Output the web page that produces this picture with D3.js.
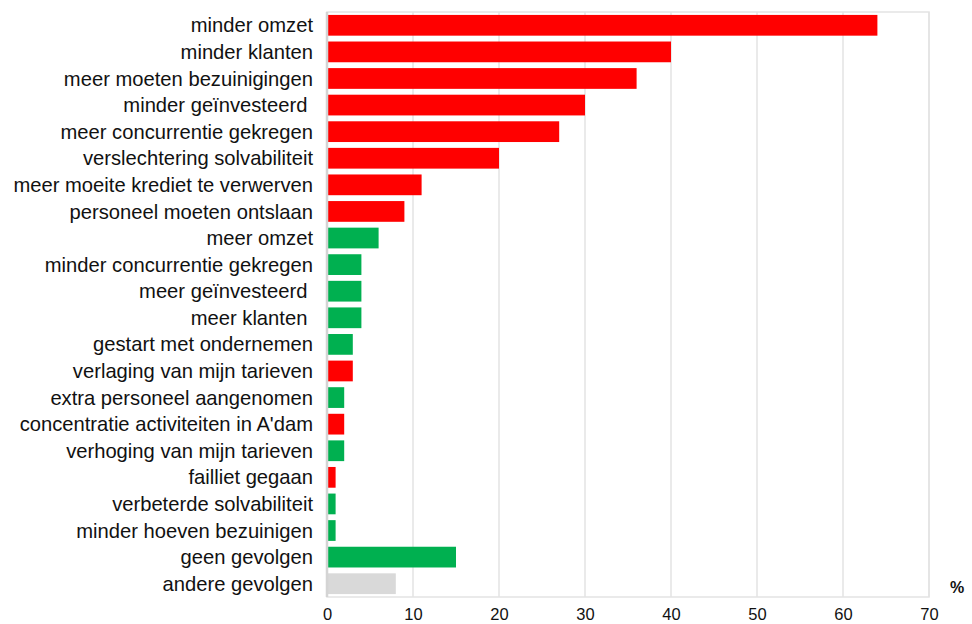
<!DOCTYPE html>
<html>
<head>
<meta charset="utf-8">
<script src="https://cdn.jsdelivr.net/npm/d3@7"></script>
<style>
  body { margin: 0; background: #fff; }
  text { font-family: "Liberation Sans", Arial, sans-serif; fill: #111; }
</style>
</head>
<body>
<div id="chart"></div>
<script>
// categories, values (%) and sign (neg = red, pos = green, other = grey)
const categories = [
    "minder omzet", "minder klanten", "meer moeten bezuinigingen", "minder geïnvesteerd ",
    "meer concurrentie gekregen", "verslechtering solvabiliteit", "meer moeite krediet te verwerven",
    "personeel moeten ontslaan", "meer omzet", "minder concurrentie gekregen", "meer geïnvesteerd ",
    "meer klanten ", "gestart met ondernemen", "verlaging van mijn tarieven",
    "extra personeel aangenomen", "concentratie activiteiten in A'dam", "verhoging van mijn tarieven",
    "failliet gegaan", "verbeterde solvabiliteit", "minder hoeven bezuinigen", "geen gevolgen",
    "andere gevolgen"
];
const values = [64, 40, 36, 30, 27, 20, 11, 9, 6, 4, 4, 4, 3, 3, 2, 2, 2, 1, 1, 1, 15, 8];
const kinds = ["neg", "neg", "neg", "neg", "neg", "neg", "neg", "neg", "pos", "pos", "pos",
    "pos", "pos", "neg", "pos", "neg", "pos", "neg", "pos", "pos", "pos", "other"];
const xTicks = [0, 10, 20, 30, 40, 50, 60, 70];

const data = categories.map((c, i) => ({ cat: c, value: values[i], kind: kinds[i] }));

const width = 972, height = 624;
const margin = { top: 12, right: 43, bottom: 27, left: 327 };
const innerW = width - margin.left - margin.right;
const innerH = height - margin.top - margin.bottom;

const color = d3.scaleOrdinal()
    .domain(["neg", "pos", "other"])
    .range(["#ff0000", "#00b050", "#d9d9d9"]);

const svg = d3.select("#chart").append("svg")
    .attr("width", width)
    .attr("height", height);

const g = svg.append("g")
    .attr("transform", "translate(" + margin.left + "," + margin.top + ")");

const x = d3.scaleLinear().domain([0, 70]).range([0, innerW]);
const y = d3.scaleBand().domain(categories).range([0, innerH]).paddingInner(0.22).paddingOuter(0.11);

// gridlines
g.selectAll("line.grid")
    .data(xTicks.slice(1))
    .enter().append("line")
    .attr("class", "grid")
    .attr("x1", d => x(d)).attr("x2", d => x(d))
    .attr("y1", 0).attr("y2", innerH)
    .attr("stroke", "#e3e3e3")
    .attr("stroke-width", 1.5);

// frame
g.append("rect")
    .attr("width", innerW).attr("height", innerH)
    .attr("fill", "none")
    .attr("stroke", "#e3e3e3")
    .attr("stroke-width", 1.5);

// bars
g.selectAll("rect.bar")
    .data(data)
    .enter().append("rect")
    .attr("class", "bar")
    .attr("x", x(0))
    .attr("y", d => y(d.cat))
    .attr("width", d => x(d.value) - x(0))
    .attr("height", y.bandwidth())
    .attr("fill", d => color(d.kind));

// value axis line (left)
g.append("line")
    .attr("x1", 0).attr("x2", 0)
    .attr("y1", 0).attr("y2", innerH)
    .attr("stroke", "#d4d4d4")
    .attr("stroke-width", 2.5);

// category labels
g.selectAll("text.cat")
    .data(data)
    .enter().append("text")
    .attr("class", "cat")
    .attr("x", -14)
    .attr("y", d => y(d.cat) + y.bandwidth() / 2)
    .attr("dy", "0.35em")
    .attr("text-anchor", "end")
    .style("white-space", "pre")
    .attr("font-size", 20.2)
    .text(d => d.cat);

// x tick labels
const xAxis = g.append("g")
    .attr("transform", "translate(0," + innerH + ")")
    .call(d3.axisBottom(x).tickValues(xTicks).tickSize(0).tickPadding(11));
xAxis.select(".domain").remove();
xAxis.selectAll("text")
    .attr("font-size", 16.5)
    .style("font-family", "'Liberation Sans', Arial, sans-serif")
    .attr("fill", "#111");

// unit label
svg.append("text")
    .attr("x", 957)
    .attr("y", 587)
    .attr("dy", "0.35em")
    .attr("text-anchor", "middle")
    .attr("font-size", 16)
    .attr("font-weight", "bold")
    .text("%");
</script>
</body>
</html>
